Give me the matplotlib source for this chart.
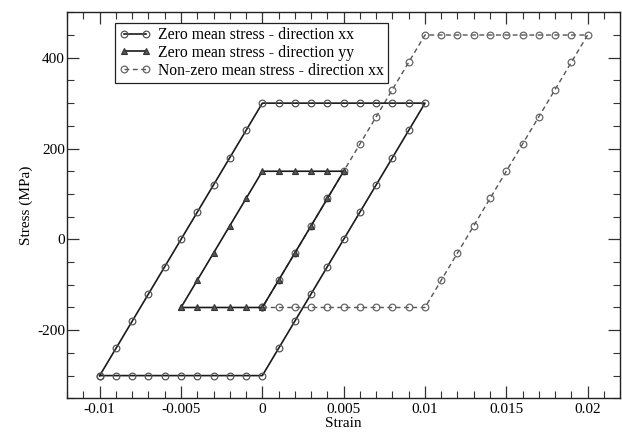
import matplotlib
matplotlib.use("Agg")
import matplotlib.pyplot as plt
from matplotlib.ticker import MultipleLocator, FuncFormatter

plt.rcParams['font.family'] = ['Liberation Serif', 'DejaVu Serif']
plt.rcParams['axes.unicode_minus'] = False

# Zero mean stress - direction xx
xx0_strain = [-0.010, -0.009, -0.008, -0.007, -0.006, -0.005, -0.004, -0.003, -0.002, -0.001, 0.000,
              0.001, 0.002, 0.003, 0.004, 0.005, 0.006, 0.007, 0.008, 0.009, 0.010,
              0.009, 0.008, 0.007, 0.006, 0.005, 0.004, 0.003, 0.002, 0.001, 0.000,
              -0.001, -0.002, -0.003, -0.004, -0.005, -0.006, -0.007, -0.008, -0.009, -0.010]
xx0_stress = [-300, -300, -300, -300, -300, -300, -300, -300, -300, -300, -300,
              -240, -180, -120, -60, 0, 60, 120, 180, 240, 300,
              300, 300, 300, 300, 300, 300, 300, 300, 300, 300,
              240, 180, 120, 60, 0, -60, -120, -180, -240, -300]

# Zero mean stress - direction yy
yy0_strain = [-0.005, -0.004, -0.003, -0.002, -0.001, 0.000,
              0.001, 0.002, 0.003, 0.004, 0.005,
              0.004, 0.003, 0.002, 0.001, 0.000,
              -0.001, -0.002, -0.003, -0.004, -0.005]
yy0_stress = [-150, -150, -150, -150, -150, -150,
              -90, -30, 30, 90, 150,
              150, 150, 150, 150, 150,
              90, 30, -30, -90, -150]

# Non-zero mean stress - direction xx
xxn_strain = [0.000, 0.001, 0.002, 0.003, 0.004, 0.005, 0.006, 0.007, 0.008, 0.009, 0.010,
              0.011, 0.012, 0.013, 0.014, 0.015, 0.016, 0.017, 0.018, 0.019, 0.020,
              0.019, 0.018, 0.017, 0.016, 0.015, 0.014, 0.013, 0.012, 0.011, 0.010,
              0.009, 0.008, 0.007, 0.006, 0.005, 0.004, 0.003, 0.002, 0.001, 0.000]
xxn_stress = [-150, -150, -150, -150, -150, -150, -150, -150, -150, -150, -150,
              -90, -30, 30, 90, 150, 210, 270, 330, 390, 450,
              450, 450, 450, 450, 450, 450, 450, 450, 450, 450,
              390, 330, 270, 210, 150, 90, 30, -30, -90, -150]

labels = ["Zero mean stress - direction xx",
          "Zero mean stress - direction yy",
          "Non-zero mean stress - direction xx"]

fig = plt.figure(figsize=(6.22, 4.32), dpi=100)
ax = fig.add_axes([0.108, 0.078, 0.889, 0.8935])

ax.plot(xx0_strain, xx0_stress, color='#1a1a1a', lw=1.2, marker='o', ms=4.8,
        mfc='none', mec='#555555', mew=0.9, label=labels[0], zorder=3)
ax.plot(yy0_strain, yy0_stress, color='#1a1a1a', lw=1.2, marker='^', ms=4.2,
        mfc='#555555', mec='#333333', mew=0.8, label=labels[1], zorder=3)
ax.plot(xxn_strain, xxn_stress, color='#555555', lw=1.0, ls=(0, (3.5, 2.5)), marker='o', ms=4.8,
        mfc='none', mec='#666666', mew=0.9, label=labels[2], zorder=2)

ax.set_xlim(-0.012, 0.022)
ax.set_ylim(-350, 500)
ax.xaxis.set_major_locator(MultipleLocator(0.005))
ax.xaxis.set_minor_locator(MultipleLocator(0.001))
ax.yaxis.set_major_locator(MultipleLocator(200))
ax.yaxis.set_minor_locator(MultipleLocator(50))
ax.xaxis.set_major_formatter(FuncFormatter(lambda v, p: "0" if abs(v) < 1e-12 else "%g" % round(v, 6)))
ax.yaxis.set_major_formatter(FuncFormatter(lambda v, p: "%d" % round(v)))

ax.tick_params(which='both', direction='in', top=True, right=True, color='#333333', labelsize=11)
ax.tick_params(which='major', length=8.5, width=0.9)
ax.tick_params(which='minor', length=5, width=0.8)
ax.tick_params(axis='x', which='major', pad=3.5)
ax.tick_params(axis='y', which='major', pad=1.5)
for s in ax.spines.values():
    s.set_linewidth(1.0)
    s.set_color('#222222')

ax.set_xlabel("Strain", fontsize=11, labelpad=0.5)
ax.set_ylabel("Stress (MPa)", fontsize=11, labelpad=3)

leg = ax.legend(loc='upper left', bbox_to_anchor=(0.087, 0.972), borderaxespad=0,
                fontsize=11.3, numpoints=2, handlelength=2.0, handletextpad=0.5,
                labelspacing=0.12, borderpad=0.25, fancybox=False, framealpha=1,
                edgecolor='#222222')
leg.get_frame().set_linewidth(0.9)

fig.savefig("out.png", dpi=100)
